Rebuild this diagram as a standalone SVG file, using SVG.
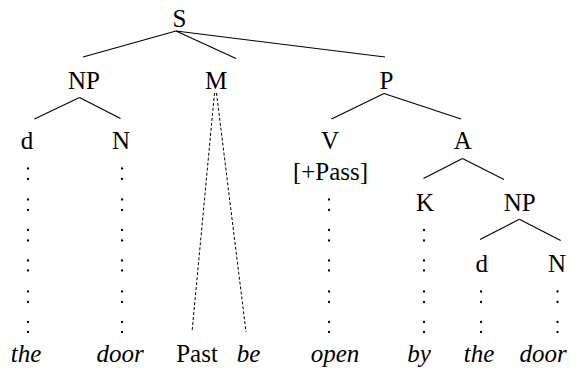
<svg xmlns="http://www.w3.org/2000/svg" width="585" height="372" viewBox="0 0 585 372" font-family="Liberation Serif, Times New Roman, serif" font-size="25">
  <style>
    text { fill: #000; text-anchor: middle; }
    .w { font-style: italic; }
    .edge { stroke: #000; stroke-width: 1.1; fill: none; }
    .dash { stroke: #000; stroke-width: 1; fill: none; stroke-dasharray: 3 2; }
    .dot { fill: #000; }
  </style>
  <defs>
    <circle id="pt" r="1.15" class="dot"/>
  </defs>
  <rect width="585" height="372" fill="#fff"/>

  <!-- branches -->
  <g id="connectors">
    <line class="edge" x1="176" y1="31" x2="83" y2="57"/>
    <line class="edge" x1="176" y1="31" x2="236" y2="58.5"/>
    <line class="edge" x1="176" y1="31" x2="385" y2="57"/>
    <line class="edge" x1="79.5" y1="97.5" x2="34.5" y2="119"/>
    <line class="edge" x1="79.5" y1="97.5" x2="120.5" y2="118.5"/>
    <line class="edge" x1="384" y1="93.5" x2="331.5" y2="119"/>
    <line class="edge" x1="384" y1="93.5" x2="461" y2="119"/>
    <line class="edge" x1="462.5" y1="158.5" x2="423.5" y2="178.5"/>
    <line class="edge" x1="462.5" y1="158.5" x2="504" y2="179.5"/>
    <line class="edge" x1="519.3" y1="219.3" x2="480" y2="239.5"/>
    <line class="edge" x1="519.3" y1="219.3" x2="560.7" y2="240.5"/>
    <line class="dash" x1="214.5" y1="93" x2="192" y2="332"/>
    <line class="dash" x1="216.5" y1="93" x2="246" y2="332"/>

    <!-- dotted links from categories down to words -->
    <g id="dots-d1">
      <use href="#pt" x="28" y="168.5"/><use href="#pt" x="28" y="179"/>
      <use href="#pt" x="28" y="199.5"/><use href="#pt" x="28" y="210"/>
      <use href="#pt" x="28" y="230"/><use href="#pt" x="28" y="240.5"/>
      <use href="#pt" x="28" y="260.5"/><use href="#pt" x="28" y="270.5"/>
      <use href="#pt" x="28" y="291.5"/><use href="#pt" x="28" y="302"/>
      <use href="#pt" x="28" y="322"/><use href="#pt" x="28" y="332"/>
    </g>
    <g id="dots-n1">
      <use href="#pt" x="122" y="168.5"/><use href="#pt" x="122" y="179"/>
      <use href="#pt" x="122" y="199.5"/><use href="#pt" x="122" y="210"/>
      <use href="#pt" x="122" y="230"/><use href="#pt" x="122" y="240.5"/>
      <use href="#pt" x="122" y="260.5"/><use href="#pt" x="122" y="270.5"/>
      <use href="#pt" x="122" y="291.5"/><use href="#pt" x="122" y="302"/>
      <use href="#pt" x="122" y="322"/><use href="#pt" x="122" y="332"/>
    </g>
    <g id="dots-v">
      <use href="#pt" x="329" y="199.5"/><use href="#pt" x="329" y="210"/>
      <use href="#pt" x="329" y="230"/><use href="#pt" x="329" y="240.5"/>
      <use href="#pt" x="329" y="260.5"/><use href="#pt" x="329" y="270.5"/>
      <use href="#pt" x="329" y="291.5"/><use href="#pt" x="329" y="302"/>
      <use href="#pt" x="329" y="322"/><use href="#pt" x="329" y="332"/>
    </g>
    <g id="dots-k">
      <use href="#pt" x="424" y="230"/><use href="#pt" x="424" y="240.5"/>
      <use href="#pt" x="424" y="260.5"/><use href="#pt" x="424" y="270.5"/>
      <use href="#pt" x="424" y="291.5"/><use href="#pt" x="424" y="302"/>
      <use href="#pt" x="424" y="322"/><use href="#pt" x="424" y="332"/>
    </g>
    <g id="dots-d2">
      <use href="#pt" x="481" y="291.5"/><use href="#pt" x="481" y="302"/>
      <use href="#pt" x="481" y="322"/><use href="#pt" x="481" y="332"/>
    </g>
    <g id="dots-n2">
      <use href="#pt" x="557.5" y="291.5"/><use href="#pt" x="557.5" y="302"/>
      <use href="#pt" x="557.5" y="322"/><use href="#pt" x="557.5" y="332"/>
    </g>
  </g>

  <g id="S"><text x="179.5" y="27">S</text></g>
  <g id="NP1"><text x="84" y="88.5">NP</text></g>
  <g id="M"><text x="216" y="88.5">M</text></g>
  <g id="P"><text x="386.5" y="88.5">P</text></g>
  <g id="d1"><text x="27" y="148.5">d</text></g>
  <g id="N1"><text x="121" y="148.5">N</text></g>
  <g id="V"><text x="330" y="148.5">V</text><text x="330.5" y="180">[+Pass]</text></g>
  <g id="A"><text x="462.7" y="148.5">A</text></g>
  <g id="K"><text x="425" y="211">K</text></g>
  <g id="NP2"><text x="519.7" y="211">NP</text></g>
  <g id="d2"><text x="481.7" y="272">d</text></g>
  <g id="N2"><text x="557" y="272">N</text></g>

  <g id="words">
    <text class="w" x="26" y="362">the</text>
    <text class="w" x="120" y="362">door</text>
    <text x="197" y="362">Past</text>
    <text class="w" x="248.5" y="362">be</text>
    <text class="w" x="335" y="362">open</text>
    <text class="w" x="419" y="362">by</text>
    <text class="w" x="479" y="362">the</text>
    <text class="w" x="543" y="362">door</text>
  </g>
</svg>
